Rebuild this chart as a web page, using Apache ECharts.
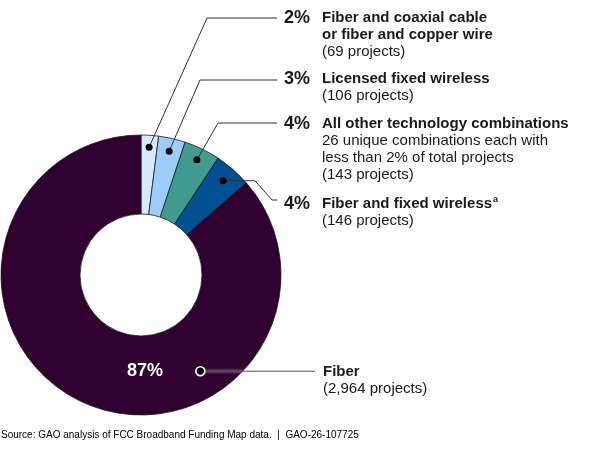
<!DOCTYPE html>
<html>
<head>
<meta charset="utf-8">
<script src="https://cdn.jsdelivr.net/npm/echarts@6/dist/echarts.min.js"></script>
<style>
  html, body { margin: 0; padding: 0; background: #fff; }
  #chart { width: 600px; height: 451px; }
</style>
</head>
<body>
<div id="chart"></div>
<script>
// data
const categories = [
  "Fiber and coaxial cable or fiber and copper wire",
  "Licensed fixed wireless",
  "All other technology combinations",
  "Fiber and fixed wireless",
  "Fiber"
];
const projectCounts = [69, 106, 143, 146, 2964];
const percentLabels = ["2%", "3%", "4%", "4%", "87%"];
const titleLines = [
  ["Fiber and coaxial cable", "or fiber and copper wire"],
  ["Licensed fixed wireless"],
  ["All other technology combinations"],
  ["Fiber and fixed wireless"],
  ["Fiber"]
];
const noteLines = [
  [],
  [],
  ["26 unique combinations each with", "less than 2% of total projects"],
  [],
  []
];
const projectTexts = ["(69 projects)", "(106 projects)", "(143 projects)", "(146 projects)", "(2,964 projects)"];
const footnoteMark = [false, false, false, true, false];

// style / layout
const COLORS = ["#d6eafd", "#9dcefb", "#419b91", "#01508f", "#2f0030"];
const CENTER = [141, 275];
const R_INNER = 61;
const R_OUTER = 140;
const DOT_R = [128, 127, 128, 125, 113];
const FIBER_ANCHOR_SHARE = 0.32;
const TEXT_Y = [18, 79, 124, 204, 372];
const LINE_Y = [18, 80, 123, 200, 372];
const ELBOW_X = [207, 200, 218, 255, null];
const LINE_END_X = 277;
const LINE_H = 17;

const total = projectCounts.reduce((a, b) => a + b, 0);

function anchorValue(i) {
  let start = 0;
  for (let k = 0; k < i; k++) start += projectCounts[k];
  const share = i === projectCounts.length - 1 ? FIBER_ANCHOR_SHARE : 0.5;
  return start + projectCounts[i] * share;
}

function dotPixel(i) {
  const theta = (90 - anchorValue(i) / total * 360) * Math.PI / 180;
  return [CENTER[0] + DOT_R[i] * Math.cos(theta), CENTER[1] - DOT_R[i] * Math.sin(theta)];
}

function labelText(i) {
  const last = i === categories.length - 1;
  const lines = [];
  titleLines[i].forEach((t, k) => {
    let s = (last ? "" : (k === 0 ? `{pct|${percentLabels[i]}}` : "{sp| }")) + `{b|${t}}`;
    if (footnoteMark[i] && k === titleLines[i].length - 1) s += "{sup|a}";
    lines.push(s);
  });
  noteLines[i].concat([projectTexts[i]]).forEach(t => {
    lines.push((last ? "" : "{sp| }") + `{n|${t}}`);
  });
  return lines.join("\n");
}

const chart = echarts.init(document.getElementById("chart"), null, { renderer: "canvas" });
const font = "Liberation Sans, Arial, sans-serif";

const pieData = categories.map((name, i) => ({
  name,
  value: projectCounts[i],
  itemStyle: { color: COLORS[i] }
}));

// same values, no fill: carries the labels and leader lines above the slices
const labelData = categories.map((name, i) => {
  const item = { name, value: projectCounts[i] };
  if (i === categories.length - 1) {
    item.labelLine = { lineStyle: { color: "#555", width: 1, shadowColor: "#fff", shadowBlur: 3 } };
  }
  return item;
});

const dotData = categories.map((name, i) => {
  const item = { value: [DOT_R[i], anchorValue(i)] };
  if (i === categories.length - 1) {
    item.symbolSize = 9;
    item.itemStyle = { color: "#000", borderColor: "#fff", borderWidth: 1.6, opacity: 1 };
    item.label = {
      show: true,
      position: "left",
      distance: 32,
      formatter: percentLabels[i],
      color: "#fff",
      fontFamily: font,
      fontWeight: "bold",
      fontSize: 18
    };
  }
  return item;
});

chart.setOption({
  backgroundColor: "#fff",
  animation: false,
  polar: { center: CENTER, radius: R_OUTER },
  angleAxis: { type: "value", min: 0, max: total, startAngle: 90, clockwise: true, show: false },
  radiusAxis: { type: "value", min: 0, max: R_OUTER, show: false },
  graphic: [{
    type: "text",
    left: 1,
    top: 430,
    style: {
      text: "Source: GAO analysis of FCC Broadband Funding Map data.  |  GAO-26-107725",
      font: `10px ${font}`,
      fill: "#000"
    }
  }],
  series: [
    {
      type: "pie",
      z: 2,
      center: CENTER,
      radius: [R_INNER, R_OUTER],
      startAngle: 90,
      clockwise: true,
      silent: true,
      itemStyle: { borderColor: "#1a1a1a", borderWidth: 0.8 },
      emphasis: { disabled: true },
      label: { show: false },
      labelLine: { show: false },
      data: pieData
    },
    {
      type: "pie",
      z: 5,
      center: CENTER,
      radius: [R_INNER, R_OUTER],
      startAngle: 90,
      clockwise: true,
      avoidLabelOverlap: false,
      silent: true,
      itemStyle: { color: "rgba(0,0,0,0)", borderWidth: 0 },
      emphasis: { disabled: true },
      data: labelData,
      label: {
        show: true,
        position: "outside",
        alignTo: "none",
        formatter: p => labelText(p.dataIndex),
        fontFamily: font,
        rich: {
          pct: { fontSize: 18, fontWeight: "bold", color: "#1a1a1a", width: 38, lineHeight: LINE_H, fontFamily: font },
          sp: { fontSize: 15, width: 38, lineHeight: LINE_H },
          b: { fontSize: 15, fontWeight: "bold", color: "#1a1a1a", lineHeight: LINE_H, fontFamily: font },
          sup: { fontSize: 9, fontWeight: "bold", color: "#1a1a1a", lineHeight: LINE_H, verticalAlign: "top", padding: [0, 0, 6, 1], fontFamily: font },
          n: { fontSize: 15, color: "#1a1a1a", lineHeight: LINE_H, fontFamily: font }
        }
      },
      labelLine: { show: true, showAbove: true, lineStyle: { color: "#333", width: 1 } },
      labelLayout: p => {
        const i = p.dataIndex;
        const dot = dotPixel(i);
        const last = i === categories.length - 1;
        let pts;
        if (last) {
          pts = [dot, [315, dot[1]]];
        } else if (i === 3) {
          pts = [dot, [ELBOW_X[i], dot[1]], [LINE_END_X - 5, LINE_Y[i]], [LINE_END_X, LINE_Y[i]]];
        } else {
          pts = [dot, [ELBOW_X[i], LINE_Y[i]], [LINE_END_X, LINE_Y[i]]];
        }
        return {
          x: last ? 323 : 284,
          y: TEXT_Y[i] - LINE_H / 2,
          align: "left",
          verticalAlign: "top",
          labelLinePoints: pts
        };
      }
    },
    {
      type: "scatter",
      coordinateSystem: "polar",
      z: 10,
      silent: true,
      symbolSize: 7,
      itemStyle: { color: "#000", opacity: 1 },
      data: dotData
    }
  ]
});
</script>
</body>
</html>
